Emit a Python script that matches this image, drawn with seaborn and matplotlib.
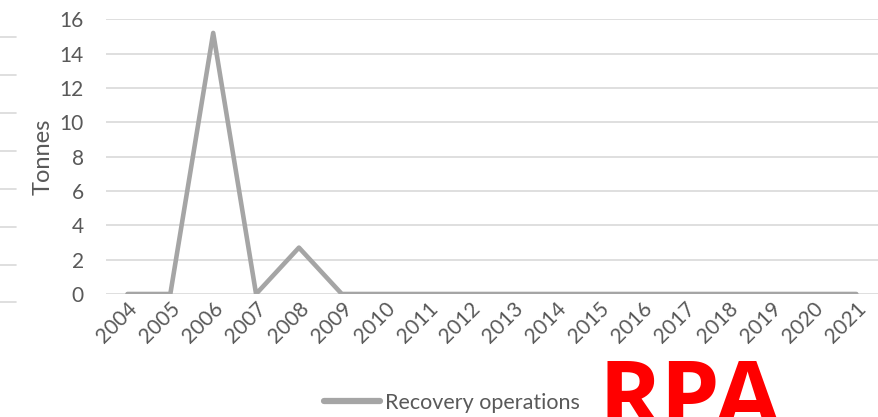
import pandas as pd
import matplotlib.pyplot as plt
import seaborn as sns
from matplotlib.lines import Line2D

# Dados
anos = [str(a) for a in range(2004, 2022)]
toneladas = [0, 0, 15.2, 0, 2.7, 0, 0, 0, 0, 0, 0, 0, 0, 0, 0, 0, 0, 0]
serie = "Recovery operations"

df = pd.DataFrame({"Ano": anos, "Tonnes": toneladas})

sns.set_theme(style="white")
plt.rcParams['font.family'] = ['Lato', 'DejaVu Sans']

cinza_texto = "#595959"
cinza_grade = "#D9D9D9"
cinza_linha = "#A5A5A5"

fig = plt.figure(figsize=(8.79, 4.17), dpi=100)
ax = fig.add_axes([0.1206, 0.295, 0.878, 0.659])

sns.lineplot(data=df, x="Ano", y="Tonnes", ax=ax, color=cinza_linha,
             linewidth=3.3, sort=False, label=serie, legend=False)

ax.set_xlim(-0.5, len(anos) - 0.5)
ax.set_ylim(0, 16)
ax.set_yticks(range(0, 17, 2))
ax.yaxis.grid(True, color=cinza_grade, linewidth=1.2)
ax.set_axisbelow(True)
for s in ax.spines.values():
    s.set_visible(False)

ax.tick_params(axis='y', labelsize=15, colors=cinza_texto, length=0, pad=16)
ax.tick_params(axis='x', labelsize=15, colors=cinza_texto, length=0, pad=3)
plt.setp(ax.get_xticklabels(), rotation=45, ha='right', rotation_mode='anchor')
ax.set_xlabel("")
ax.set_ylabel("Tonnes", fontsize=17, color=cinza_texto, labelpad=4)

# legenda em baixo
fig.legend(handles=[Line2D([], [], color=cinza_linha, linewidth=4.5)], labels=[serie],
           loc='center', bbox_to_anchor=(0.514, 1 - 403 / 417), frameon=False,
           fontsize=15.5, labelcolor=cinza_texto, handlelength=2.6, handletextpad=0.2)

# marcas de grade de outro gráfico na margem esquerda
for y in [37, 75, 113, 151, 189, 227, 265, 302]:
    fig.add_artist(Line2D([0, 16 / 879], [1 - y / 417, 1 - y / 417],
                          color=cinza_grade, linewidth=1.2, transform=fig.transFigure))

# logotipo RPA (cortado na borda, como no original)
fig.text(690 / 879, 1 - 357 / 417, "RPA", color="#FF0000", fontsize=68,
         fontweight='bold', ha='center', va='top', family=['Open Sans', 'DejaVu Sans'])

fig.savefig("out.png", dpi=100)
